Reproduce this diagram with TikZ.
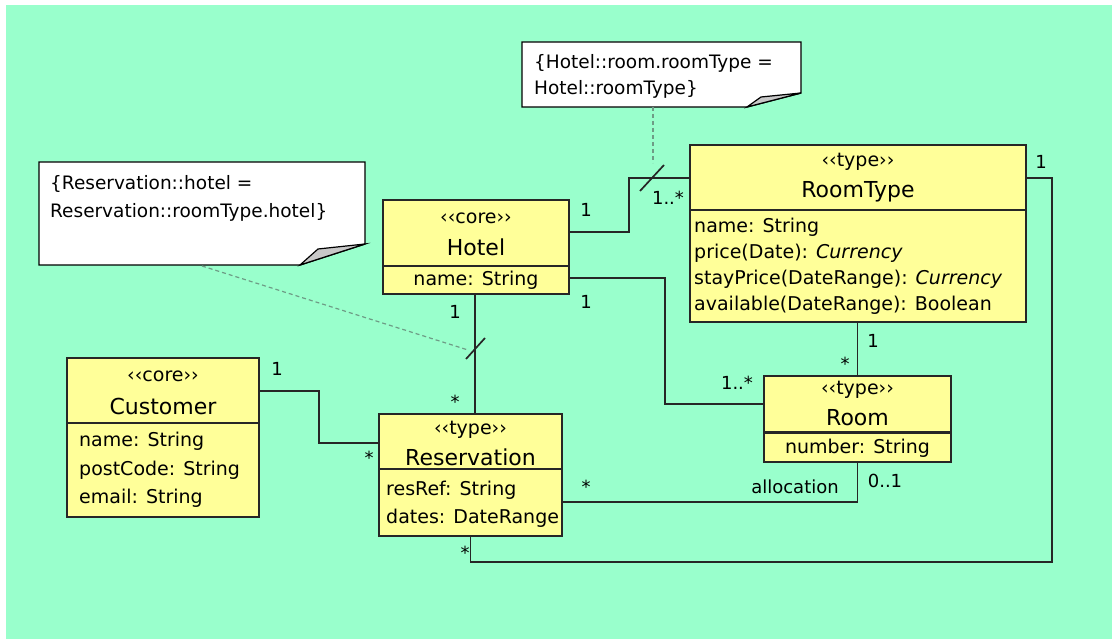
\documentclass[tikz,border=0pt]{standalone}
\usepackage{fontspec}
\setmainfont{DejaVu Sans}
\usetikzlibrary{calc}
\definecolor{bg}{HTML}{99FFCC}
\definecolor{cls}{HTML}{FFFF99}
\definecolor{dashc}{HTML}{6E9C86}
\definecolor{foldc}{HTML}{C8C8C8}
\begin{document}
\begin{tikzpicture}[x=1pt,y=-1pt,
  classbox/.style={draw=black!85, fill=cls, line width=1.6pt, inner sep=0pt, outer sep=0pt},
  conn/.style={draw=black!85, line width=1.7pt},
  notelink/.style={draw=dashc, line width=1.2pt, dash pattern=on 4pt off 3pt},
  stereo/.style={font=\fontsize{19}{21}\selectfont, inner sep=0pt},
  cname/.style={font=\fontsize{22}{24}\selectfont, inner sep=0pt},
  attr/.style={font=\fontsize{19}{21}\selectfont, inner sep=0pt, anchor=west},
  mult/.style={font=\fontsize{18}{20}\selectfont, inner sep=0pt},
  notetext/.style={font=\fontsize{18.5}{21}\selectfont, inner sep=0pt, anchor=west}]
\useasboundingbox (0,0) rectangle (1112,639);
\fill[bg] (6,5) rectangle (1112,639);

% ---- notes ----
\draw[fill=white, line width=1.4pt] (39,162) -- (365,162) -- (365,244) -- (300,265) -- (39,265) -- cycle;
\draw[fill=foldc, line width=1.2pt] (300,265) -- (318,249) -- (365,244) -- cycle;
\node[notetext] (n1a) at (50,184) {\{Reservation::hotel =};
\node[notetext] (n1b) at (50,212) {Reservation::roomType.hotel\}};

\draw[fill=white, line width=1.4pt] (522,42) -- (801,42) -- (801,93) -- (747,107) -- (522,107) -- cycle;
\draw[fill=foldc, line width=1.2pt] (747,107) -- (761,97) -- (801,93) -- cycle;
\node[notetext] (n2a) at (534,63) {\{Hotel::room.roomType =};
\node[notetext] (n2b) at (534,89) {Hotel::roomType\}};

% ---- class boxes ----
\node[classbox, minimum width=186pt, minimum height=94pt] (hotel) at (476,247) {};
\node[classbox, minimum width=336pt, minimum height=177pt] (roomtype) at (858,233.5) {};
\node[classbox, minimum width=192pt, minimum height=159pt] (customer) at (163,437.5) {};
\node[classbox, minimum width=183pt, minimum height=122pt] (reservation) at (470.5,475) {};
\node[classbox, minimum width=187pt, minimum height=86pt] (room) at (857.5,419) {};

\draw[conn] (hotel.west |- 0,266) -- (hotel.east |- 0,266);
\draw[conn] (roomtype.west |- 0,210) -- (roomtype.east |- 0,210);
\draw[conn] (customer.west |- 0,423) -- (customer.east |- 0,423);
\draw[conn] (reservation.west |- 0,469) -- (reservation.east |- 0,469);
\draw[conn, line width=3pt] (room.west |- 0,432.5) -- (room.east |- 0,432.5);

% Hotel
\node[stereo] (hst) at (476,218) {‹‹core››};
\node[cname] (hnm) at (476,247) {Hotel};
\node[stereo] (hat) at (476,280) {name: String};
% RoomType
\node[stereo] (rtst) at (858,162) {‹‹type››};
\node[cname] (rtnm) at (858,192) {RoomType};
\node[attr] (rta1) at (694,227) {name: String};
\node[attr] (rta2) at (694,253) {price(Date): \textit{Currency}};
\node[attr] (rta3) at (694,279) {stayPrice(DateRange): \textit{Currency}};
\node[attr] (rta4) at (694,305) {available(DateRange): Boolean};
% Customer
\node[stereo] (cst) at (163,376) {‹‹core››};
\node[cname] (cnm) at (163,406) {Customer};
\node[attr] (ca1) at (79,441) {name: String};
\node[attr] (ca2) at (79,470) {postCode: String};
\node[attr] (ca3) at (79,498) {email: String};
% Reservation
\node[stereo] (rst) at (470.5,430) {‹‹type››};
\node[cname] (rnm) at (470.5,457) {Reservation};
\node[attr] (ra1) at (386,490) {resRef: String};
\node[attr] (ra2) at (386,518) {dates: DateRange};
% Room
\node[stereo] (mst) at (857.5,390) {‹‹type››};
\node[cname] (mnm) at (857.5,418) {Room};
\node[stereo] (ma1) at (857.5,448) {number: String};

% ---- connectors ----
\coordinate (s1) at (652,178);
\coordinate (s2) at (475,349);
\draw[conn] (hotel.east |- 0,232) -| (629,178) -- (roomtype.west |- 0,178);
\draw[conn] (hotel.east |- 0,278) -| (665,404) -- (room.west |- 0,404);
\draw[conn] (room.north |- roomtype.south) -- (room.north);
\draw[conn] (roomtype.east |- 0,178) -| (1052,562) -| (reservation.south);
\draw[conn] (475,294) -- (475,414);
\draw[conn] (customer.east |- 0,391) -| (319,443) -- (reservation.west |- 0,443);
\draw[conn] (reservation.east |- 0,502) -| (room.south);

% slashes
\draw[conn] ($(s1)+(-12,13)$) -- ($(s1)+(12,-13)$);
\draw[conn] ($(s2)+(-9,10)$) -- ($(s2)+(10,-11)$);

% note links
\draw[notelink] (653,107) -- (653,163);
\draw[notelink] (202,266) -- (468,350);

% ---- multiplicities ----
\node[mult] (m1) at (586,210) {1};
\node[mult] (m2) at (668,198) {1..*};
\node[mult] (m3) at (586,302) {1};
\node[mult] (m4) at (737,383) {1..*};
\node[mult] (m5) at (873,341) {1};
\node[mult] (m6) at (845,364) {*};
\node[mult] (m7) at (1041,162) {1};
\node[mult] (m8) at (465,553) {*};
\node[mult] (m9) at (455,312) {1};
\node[mult] (m10) at (455,402) {*};
\node[mult] (m11) at (277,369) {1};
\node[mult] (m12) at (369,458) {*};
\node[mult] (m13) at (586,487) {*};
\node[mult] (m14) at (795,487) {allocation};
\node[mult] (m15) at (885,481) {0..1};
\end{tikzpicture}
\end{document}
